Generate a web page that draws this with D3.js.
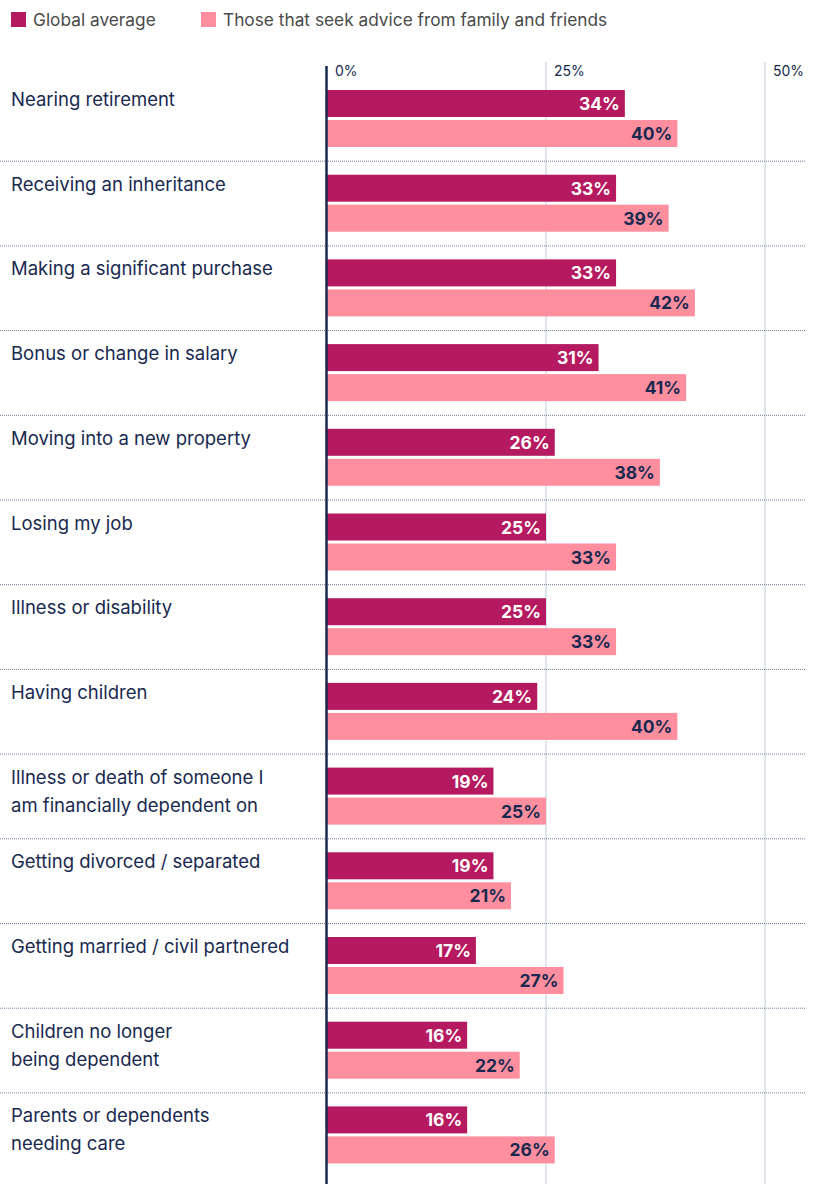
<!DOCTYPE html>
<html>
<head>
<meta charset="utf-8">
<script src="https://cdn.jsdelivr.net/npm/d3@7"></script>
<style>
  body { margin: 0; background: #fff; }
  svg { display: block; font-family: Inter, "Noto Sans", sans-serif; }
</style>
</head>
<body>
<svg width="816" height="1184"></svg>
<script>
var categories = [
  ["Nearing retirement"],
  ["Receiving an inheritance"],
  ["Making a significant purchase"],
  ["Bonus or change in salary"],
  ["Moving into a new property"],
  ["Losing my job"],
  ["Illness or disability"],
  ["Having children"],
  ["Illness or death of someone I", "am financially dependent on"],
  ["Getting divorced / separated"],
  ["Getting married / civil partnered"],
  ["Children no longer", "being dependent"],
  ["Parents or dependents", "needing care"]
];
var globalAvg = [34, 33, 33, 31, 26, 25, 25, 24, 19, 19, 17, 16, 16];
var familyFriends = [40, 39, 42, 41, 38, 33, 33, 40, 25, 21, 27, 22, 26];
var tickValues = [0, 25, 50];
var seriesNames = ["Global average", "Those that seek advice from family and friends"];
var seriesColors = ["#b5195f", "#ff8f9f"];

var svg = d3.select("svg");
var navy = "#18294f";

var x = d3.scaleLinear().domain([0, 50]).range([327, 765]);
var y = d3.scaleBand().domain(d3.range(categories.length)).range([76, 76 + 84.7 * categories.length]);

// legend
var legend = svg.append("g");
var legX = [11, 201];
seriesNames.forEach(function(name, i) {
  legend.append("rect")
    .attr("x", legX[i]).attr("y", 12)
    .attr("width", 15).attr("height", 15)
    .attr("fill", seriesColors[i]);
  legend.append("text")
    .attr("x", legX[i] + 22).attr("y", 26)
    .attr("font-size", 17.3)
    .attr("fill", "#4a4a4a")
    .text(name);
});

// gridlines
svg.append("g").selectAll("line")
  .data(tickValues.slice(1))
  .enter().append("line")
    .attr("x1", function(d) { return x(d); })
    .attr("x2", function(d) { return x(d); })
    .attr("y1", 62).attr("y2", 1184)
    .attr("stroke", "#d6dde7")
    .attr("stroke-width", 1.5);

svg.append("g").selectAll("text")
  .data(tickValues)
  .enter().append("text")
    .attr("x", function(d) { return x(d) + 8; })
    .attr("y", 76)
    .attr("font-size", 14)
    .attr("fill", navy)
    .text(function(d) { return d + "%"; });

// separators
svg.append("g").selectAll("line")
  .data(d3.range(categories.length - 1))
  .enter().append("line")
    .attr("x1", 0).attr("x2", 806)
    .attr("y1", function(i) { return y(i) + y.bandwidth() + 0.5; })
    .attr("y2", function(i) { return y(i) + y.bandwidth() + 0.5; })
    .attr("stroke", "#6d7d99")
    .attr("stroke-width", 1)
    .attr("stroke-dasharray", "1,1");

// row labels
var labels = svg.append("g").selectAll("text")
  .data(categories)
  .enter().append("text")
    .attr("x", 11)
    .attr("y", function(d, i) { return y(i) + 30; })
    .attr("font-size", 18.5)
    .attr("fill", navy);
labels.selectAll("tspan")
  .data(function(d) { return d; })
  .enter().append("tspan")
    .attr("x", 11)
    .attr("dy", function(d, j) { return j === 0 ? 0 : 28; })
    .text(function(d) { return d; });

// bars
var series = [globalAvg, familyFriends];
var barOff = [14, 44];
var labelColors = ["#ffffff", navy];
series.forEach(function(vals, s) {
  var g = svg.append("g");
  g.selectAll("rect")
    .data(vals)
    .enter().append("rect")
      .attr("x", x(0))
      .attr("y", function(d, i) { return y(i) + barOff[s]; })
      .attr("width", function(d) { return x(d) - x(0); })
      .attr("height", 27)
      .attr("fill", seriesColors[s]);
  g.selectAll("text")
    .data(vals)
    .enter().append("text")
      .attr("x", function(d) { return x(d) - 5; })
      .attr("y", function(d, i) { return y(i) + barOff[s] + 20; })
      .attr("text-anchor", "end")
      .attr("font-size", 17.5)
      .attr("font-weight", 700)
      .attr("fill", labelColors[s])
      .text(function(d) { return d + "%"; });
});

// zero axis line
svg.append("line")
  .attr("x1", 326.5).attr("x2", 326.5)
  .attr("y1", 66).attr("y2", 1184)
  .attr("stroke", navy)
  .attr("stroke-width", 2.5);
</script>
</body>
</html>
